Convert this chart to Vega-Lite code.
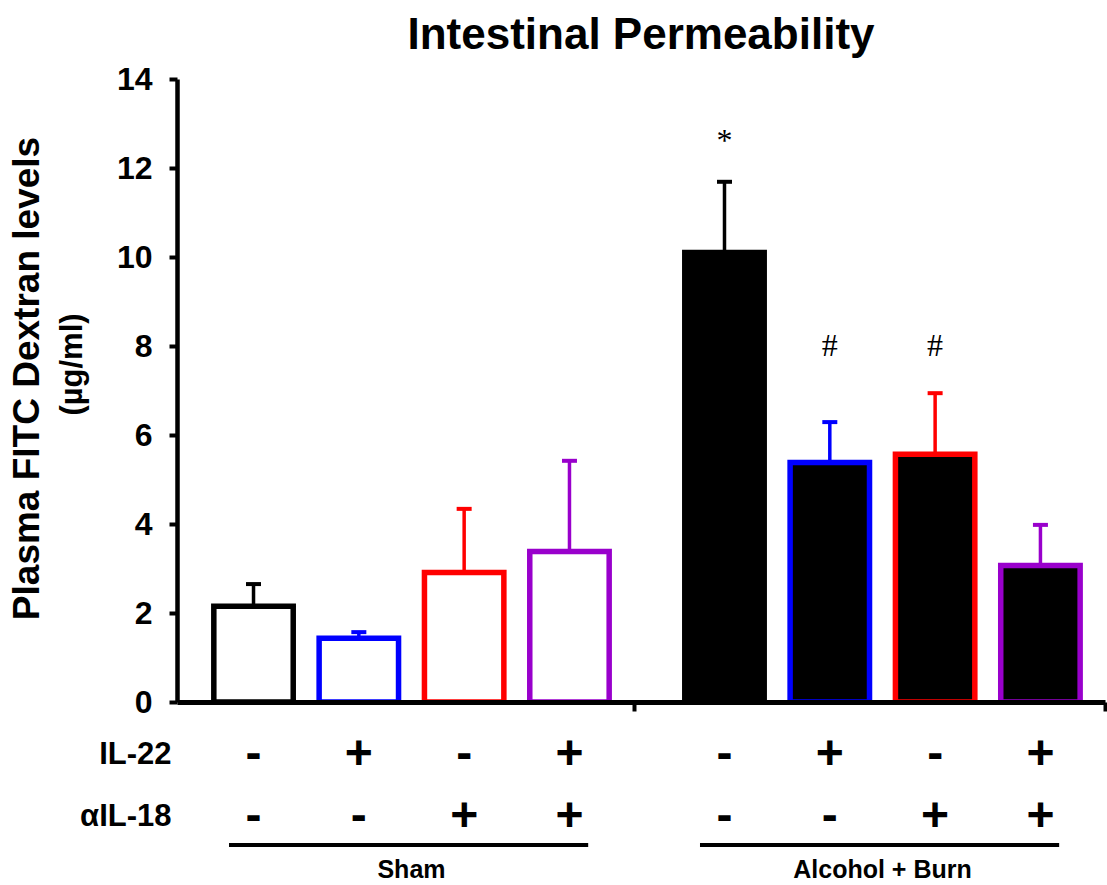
{
  "$schema": "https://vega.github.io/schema/vega-lite/v6.json",
  "background": "white",
  "padding": {"left": 8, "top": 14, "right": 0, "bottom": 0},
  "config": {"view": {"stroke": null}, "font": "Liberation Sans"},
  "datasets": {
    "bars": [
      {"group": "Sham", "treatment": "none", "mean": 2.15, "upper": 2.65},
      {"group": "Sham", "treatment": "IL-22", "mean": 1.43, "upper": 1.57},
      {"group": "Sham", "treatment": "αIL-18", "mean": 2.91, "upper": 4.34},
      {"group": "Sham", "treatment": "IL-22 + αIL-18", "mean": 3.38, "upper": 5.42},
      {"group": "Alcohol + Burn", "treatment": "none", "mean": 10.1, "upper": 11.69},
      {"group": "Alcohol + Burn", "treatment": "IL-22", "mean": 5.38, "upper": 6.29},
      {"group": "Alcohol + Burn", "treatment": "αIL-18", "mean": 5.57, "upper": 6.94},
      {"group": "Alcohol + Burn", "treatment": "IL-22 + αIL-18", "mean": 3.07, "upper": 3.98}
    ],
    "sig": [
      {"group": "Alcohol + Burn", "treatment": "none", "sig": "*", "sigY": 12.38},
      {"group": "Alcohol + Burn", "treatment": "IL-22", "sig": "#", "sigY": 7.78},
      {"group": "Alcohol + Burn", "treatment": "αIL-18", "sig": "#", "sigY": 7.78}
    ],
    "table": [
      {"group": "Sham", "treatment": "none", "factor": "IL-22", "sign": "-"},
      {"group": "Sham", "treatment": "none", "factor": "αIL-18", "sign": "-"},
      {"group": "Sham", "treatment": "IL-22", "factor": "IL-22", "sign": "+"},
      {"group": "Sham", "treatment": "IL-22", "factor": "αIL-18", "sign": "-"},
      {"group": "Sham", "treatment": "αIL-18", "factor": "IL-22", "sign": "-"},
      {"group": "Sham", "treatment": "αIL-18", "factor": "αIL-18", "sign": "+"},
      {"group": "Sham", "treatment": "IL-22 + αIL-18", "factor": "IL-22", "sign": "+"},
      {"group": "Sham", "treatment": "IL-22 + αIL-18", "factor": "αIL-18", "sign": "+"},
      {"group": "Alcohol + Burn", "treatment": "none", "factor": "IL-22", "sign": "-"},
      {"group": "Alcohol + Burn", "treatment": "none", "factor": "αIL-18", "sign": "-"},
      {"group": "Alcohol + Burn", "treatment": "IL-22", "factor": "IL-22", "sign": "+"},
      {"group": "Alcohol + Burn", "treatment": "IL-22", "factor": "αIL-18", "sign": "-"},
      {"group": "Alcohol + Burn", "treatment": "αIL-18", "factor": "IL-22", "sign": "-"},
      {"group": "Alcohol + Burn", "treatment": "αIL-18", "factor": "αIL-18", "sign": "+"},
      {"group": "Alcohol + Burn", "treatment": "IL-22 + αIL-18", "factor": "IL-22", "sign": "+"},
      {"group": "Alcohol + Burn", "treatment": "IL-22 + αIL-18", "factor": "αIL-18", "sign": "+"}
    ],
    "lines": [
      {"group": "Sham", "factor": "αIL-18"},
      {"group": "Alcohol + Burn", "factor": "αIL-18"}
    ]
  },
  "bounds": "flush",
  "spacing": 22,
  "vconcat": [
    {
      "width": 928,
      "height": 623,
      "title": {"text": "Intestinal Permeability", "fontSize": 44, "fontWeight": "bold", "font": "Liberation Sans", "color": "black", "anchor": "middle", "offset": 5},
      "encoding": {
        "x": {"field": "group", "type": "nominal",
              "scale": {"domain": ["Sham", "Alcohol + Burn"], "paddingInner": 0.055, "paddingOuter": 0.0127, "align": 1},
              "axis": {"title": null, "labels": false, "domain": true, "domainColor": "black", "domainWidth": 5, "ticks": true, "tickOffset": 222.5, "tickColor": "black", "tickSize": 9, "tickWidth": 4, "zindex": 1}},
        "xOffset": {"field": "treatment", "type": "nominal",
              "scale": {"domain": ["none", "IL-22", "αIL-18", "IL-22 + αIL-18"], "paddingInner": 0.246, "paddingOuter": 0.236}}
      },
      "layer": [
        {
          "data": {"name": "bars"},
          "mark": {"type": "rule", "strokeWidth": 3.5},
          "encoding": {
            "y": {"field": "mean", "type": "quantitative", "scale": {"domain": [0, 14], "nice": false},
                  "axis": {"values": [0, 2, 4, 6, 8, 10, 12, 14], "title": "Plasma FITC Dextran levels", "titleFontSize": 37, "titleFontWeight": "bold", "titleColor": "black", "titlePadding": 70, "titleY": 299,
                           "labelFontSize": 32, "labelFontWeight": "bold", "labelColor": "black", "labelPadding": 17,
                           "domainColor": "black", "domainWidth": 4.5, "tickColor": "black", "tickWidth": 4, "tickSize": 8, "grid": false, "zindex": 1, "minExtent": 0}},
            "y2": {"field": "upper"},
            "color": {"field": "treatment", "type": "nominal", "legend": null,
                      "scale": {"domain": ["none", "IL-22", "αIL-18", "IL-22 + αIL-18"], "range": ["#000000", "#0000ff", "#ff0000", "#9900cc"]}}
          }
        },
        {
          "data": {"name": "bars"},
          "mark": {"type": "bar", "strokeWidth": 5.5},
          "encoding": {
            "y": {"field": "mean", "type": "quantitative",
                  "axis": {"orient": "left", "labels": false, "ticks": false, "domain": false, "grid": false, "title": "(µg/ml)", "titleFontSize": 31, "titleFontWeight": "bold", "titleColor": "black", "titlePadding": 89, "titleY": 285, "minExtent": 0}},
            "fill": {"field": "group", "type": "nominal", "legend": null,
                     "scale": {"domain": ["Sham", "Alcohol + Burn"], "range": ["#ffffff", "#000000"]}},
            "stroke": {"field": "treatment", "type": "nominal", "legend": null,
                       "scale": {"domain": ["none", "IL-22", "αIL-18", "IL-22 + αIL-18"], "range": ["#000000", "#0000ff", "#ff0000", "#9900cc"]}}
          }
        },
        {
          "data": {"name": "bars"},
          "mark": {"type": "tick", "size": 15, "thickness": 4, "opacity": 1},
          "encoding": {
            "y": {"field": "upper", "type": "quantitative", "axis": null},
            "color": {"field": "treatment", "type": "nominal", "legend": null}
          }
        },
        {
          "data": {"name": "sig"},
          "mark": {"type": "text", "font": "Liberation Serif", "fontSize": 32, "baseline": "alphabetic", "color": "black"},
          "encoding": {
            "y": {"field": "sigY", "type": "quantitative", "axis": null},
            "text": {"field": "sig"}
          }
        }
      ],
      "resolve": {"axis": {"y": "independent"}}
    },
    {
      "width": 928,
      "height": 124,
      "layer": [
        {
          "data": {"name": "table"},
          "mark": {"type": "text", "fontSize": 48, "fontWeight": "bold", "baseline": "middle", "align": "center", "color": "black"},
          "encoding": {
            "x": {"field": "group", "type": "nominal",
                  "scale": {"domain": ["Sham", "Alcohol + Burn"], "paddingInner": 0.055, "paddingOuter": 0.0127, "align": 1},
                  "axis": {"orient": "bottom", "title": null, "domain": false, "ticks": false, "labelFontSize": 25, "labelFontWeight": "bold", "labelColor": "black", "labelPadding": 9, "labelAngle": 0}},
            "xOffset": {"field": "treatment", "type": "nominal",
                  "scale": {"domain": ["none", "IL-22", "αIL-18", "IL-22 + αIL-18"], "paddingInner": 0.246, "paddingOuter": 0.236}},
            "y": {"field": "factor", "type": "nominal",
                  "scale": {"domain": ["IL-22", "αIL-18"], "paddingInner": 0, "paddingOuter": 0},
                  "axis": {"title": null, "domain": false, "ticks": false, "labelFontSize": 31, "labelFontWeight": "bold", "labelColor": "black", "labelPadding": 6, "minExtent": 0}},
            "text": {"field": "sign"}
          }
        },
        {
          "data": {"name": "lines"},
          "mark": {"type": "rule", "strokeWidth": 4, "color": "black"},
          "encoding": {
            "x": {"field": "group", "type": "nominal", "bandPosition": 0.09},
            "x2": {"field": "group", "bandPosition": 0.897},
            "y": {"field": "factor", "type": "nominal", "bandPosition": 0.95}
          }
        }
      ]
    }
  ]
}
